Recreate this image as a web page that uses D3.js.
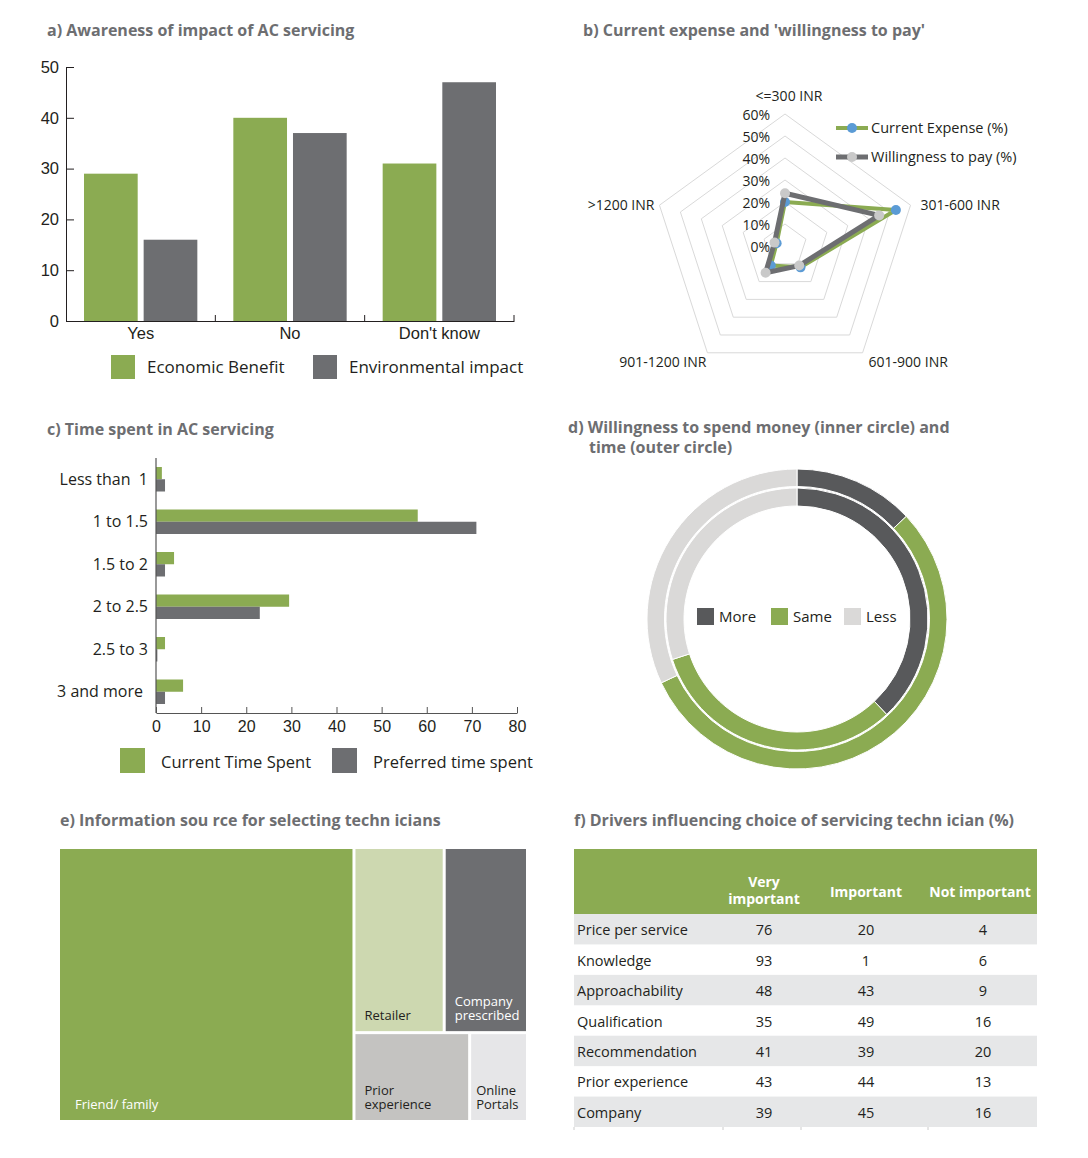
<!DOCTYPE html>
<html>
<head>
<meta charset="utf-8">
<script src="https://cdn.jsdelivr.net/npm/d3@7"></script>
<style>
  body { margin: 0; background: #fff; }
  svg { display: block; font-family: "Open Sans", sans-serif; }
  svg text { white-space: pre; }
  .title { font-weight: 700; fill: #6d6e71; font-size: 16px; }
  .tick text { fill: #231f20; }
</style>
</head>
<body>
<svg id="chart" width="1088" height="1158"></svg>
<script>
// ---- data ----
const awarenessCats = ["Yes", "No", "Don't know"];
const economicBenefit = [29, 40, 31];
const environmentalImpact = [16, 37, 47];

const expenseCats = ["<=300 INR", "301-600 INR", "601-900 INR", "901-1200 INR", ">1200 INR"];
const currentExpense = [20, 53, 12, 11, 4];
const willingnessToPay = [24, 45, 11, 15, 5];
const radarTicks = [0, 10, 20, 30, 40, 50, 60];

const timeCats = ["Less than  1", "1 to 1.5", "1.5 to 2", "2 to 2.5", "2.5 to 3", "3 and more"];
const currentTime = [1.3, 58, 4, 29.5, 2, 6];
const preferredTime = [2, 71, 2, 23, 0.3, 2];
const timeTicks = [0, 10, 20, 30, 40, 50, 60, 70, 80];

const spendCats = ["More", "Same", "Less"];
const moneyInner = [38, 32, 30];
const timeOuter = [13, 55, 32];

const sourceNames = ["Friend/ family", "Retailer", "Company prescribed", "Prior experience", "Online Portals"];
const sourceValues = [63, 13, 12, 8, 4];

const driverNames = ["Price per service", "Knowledge", "Approachability", "Qualification", "Recommendation", "Prior experience", "Company"];
const veryImportant = [76, 93, 48, 35, 41, 43, 39];
const important = [20, 1, 43, 49, 39, 44, 45];
const notImportant = [4, 6, 9, 16, 20, 13, 16];

const GREEN = "#8bab52", GREY = "#6d6e71", TXT = "#231f20";
const svg = d3.select("#chart");

// multi-line label as one text element, yLast = centre of the last line
function multiText(g, lines, x, yLast, lh) {
  const t = g.append("text").attr("x", x).attr("y", yLast - (lines.length - 1) * lh);
  lines.forEach((ln, k) => t.append("tspan").attr("x", x).attr("dy", k ? lh : "0.35em").text(ln));
  return t;
}

// ---- a) grouped bars ----
const a = svg.append("g");
a.append("text").attr("class", "title").attr("x", 47).attr("y", 36).text("a) Awareness of impact of AC servicing");

const ax = d3.scaleBand().domain(awarenessCats).range([66, 514]);
const ax1 = d3.scaleBand().domain([0, 1]).range([18, ax.bandwidth() - 18]).paddingInner(0.1);
const ay = d3.scaleLinear().domain([0, 50]).range([321, 67]);

awarenessCats.forEach((c, i) => {
  [economicBenefit[i], environmentalImpact[i]].forEach((v, j) => {
    a.append("rect")
      .attr("x", ax(c) + ax1(j)).attr("width", ax1.bandwidth())
      .attr("y", ay(v)).attr("height", ay(0) - ay(v))
      .attr("fill", j ? GREY : GREEN);
  });
});

a.append("g").attr("transform", "translate(66,0)")
  .call(d3.axisLeft(ay).ticks(5).tickSize(-8).tickPadding(7))
  .call(g => g.selectAll("text").attr("font-size", 16.5))
  .call(g => g.selectAll("line,path").attr("stroke", TXT));
a.append("g").attr("transform", "translate(0,321)")
  .call(d3.axisBottom(ax).tickSize(0).tickPadding(6))
  .call(g => g.selectAll("text").attr("font-size", 16.5))
  .call(g => g.select(".domain").attr("stroke", TXT));
awarenessCats.forEach(c => {
  a.append("line").attr("x1", ax(c) + ax.bandwidth()).attr("x2", ax(c) + ax.bandwidth())
    .attr("y1", 321).attr("y2", 315).attr("stroke", TXT);
});

[["Economic Benefit", GREEN, 111], ["Environmental impact", GREY, 313]].forEach(([t, col, x]) => {
  a.append("rect").attr("x", x).attr("y", 355).attr("width", 24).attr("height", 24).attr("fill", col);
  a.append("text").attr("x", x + 36).attr("y", 367).attr("dy", "0.35em")
    .attr("font-size", 17).attr("fill", TXT).text(t);
});

// ---- b) radar ----
const b = svg.append("g");
b.append("text").attr("class", "title").attr("x", 583).attr("y", 36).text("b) Current expense and 'willingness to pay'");

const rc = { x: 785, y: 246 }, R = 132;
const rr = d3.scaleLinear().domain([0, 60]).range([0, R]);
const ang = i => i * 2 * Math.PI / expenseCats.length;
const pt = (i, v) => [rc.x + rr(v) * Math.sin(ang(i)), rc.y - rr(v) * Math.cos(ang(i))];

radarTicks.slice(1).forEach(t => {
  b.append("polygon")
    .attr("points", expenseCats.map((c, i) => pt(i, t).join(",")).join(" "))
    .attr("fill", "none").attr("stroke", "#d9d9d9").attr("stroke-width", 1);
});
radarTicks.forEach(t => {
  b.append("text").attr("x", rc.x - 15).attr("y", rc.y - rr(t) + 1).attr("dy", "0.35em")
    .attr("text-anchor", "end").attr("font-size", 14).attr("fill", TXT).text(t + "%");
});

expenseCats.forEach((c, i) => {
  const [x, y] = pt(i, 60);
  let anchor = "middle", dx = 0, dy = 0;
  if (i === 0) { dy = -18; dx = 4; }
  else if (i === 1) { anchor = "start"; dx = 10; }
  else if (i === 2) { anchor = "start"; dx = 6; dy = 9; }
  else if (i === 3) { anchor = "end"; dx = -1; dy = 9; }
  else { anchor = "end"; dx = -5; }
  b.append("text").attr("x", x + dx).attr("y", y + dy).attr("dy", "0.35em")
    .attr("text-anchor", anchor).attr("font-size", 14).attr("fill", TXT).text(c);
});

const radarLine = d3.line().curve(d3.curveLinearClosed);
[[currentExpense, GREEN, "#5b9bd5", 4], [willingnessToPay, GREY, "#c9c9c9", 5]].forEach(([vals, lc, dc, w]) => {
  b.append("path").attr("d", radarLine(vals.map((v, i) => pt(i, v))))
    .attr("fill", "none").attr("stroke", lc).attr("stroke-width", w).attr("stroke-linejoin", "round");
  vals.forEach((v, i) => {
    const [x, y] = pt(i, v);
    b.append("circle").attr("cx", x).attr("cy", y).attr("r", 5).attr("fill", dc);
  });
});

[["Current Expense (%)", GREEN, "#5b9bd5", 4, 128], ["Willingness to pay (%)", GREY, "#c9c9c9", 5, 157]].forEach(([t, lc, dc, w, y]) => {
  b.append("line").attr("x1", 836).attr("x2", 868).attr("y1", y).attr("y2", y)
    .attr("stroke", lc).attr("stroke-width", w);
  b.append("circle").attr("cx", 852).attr("cy", y).attr("r", 5).attr("fill", dc);
  b.append("text").attr("x", 871).attr("y", y).attr("dy", "0.35em")
    .attr("font-size", 14.5).attr("fill", TXT).text(t);
});

// ---- c) horizontal bars ----
const c = svg.append("g");
c.append("text").attr("class", "title").attr("x", 47).attr("y", 435).text("c) Time spent in AC servicing");

const cx = d3.scaleLinear().domain([0, 80]).range([156, 517]);
const cy = d3.scaleBand().domain(timeCats).range([458, 713]);
const cy1 = d3.scaleBand().domain([0, 1]).range([9, cy.bandwidth() - 9]);

timeCats.forEach((cat, i) => {
  [currentTime[i], preferredTime[i]].forEach((v, j) => {
    c.append("rect")
      .attr("x", cx(0)).attr("width", cx(v) - cx(0))
      .attr("y", cy(cat) + cy1(j)).attr("height", cy1.bandwidth())
      .attr("fill", j ? GREY : GREEN);
  });
  c.append("text").attr("x", i === timeCats.length - 1 ? 143 : 148).attr("y", cy(cat) + cy.bandwidth() / 2).attr("dy", "0.35em")
    .attr("text-anchor", "end").attr("font-size", 16).attr("fill", TXT).text(cat);
});

c.append("line").attr("x1", 156).attr("x2", 156).attr("y1", 458).attr("y2", 713).attr("stroke", "#555").attr("stroke-width", 1.2);
c.append("g").attr("transform", "translate(0,713)")
  .call(d3.axisBottom(cx).tickValues(timeTicks).tickSize(-6).tickPadding(8).tickSizeOuter(0))
  .call(g => g.selectAll("text").attr("font-size", 16))
  .call(g => g.selectAll("line,path").attr("stroke", "#555"));

[["Current Time Spent", GREEN, 120], ["Preferred time spent", GREY, 332]].forEach(([t, col, x]) => {
  c.append("rect").attr("x", x).attr("y", 748).attr("width", 25).attr("height", 25).attr("fill", col);
  c.append("text").attr("x", x + 41).attr("y", 762).attr("dy", "0.35em")
    .attr("font-size", 16.5).attr("fill", TXT).text(t);
});

// ---- d) nested donut ----
const d = svg.append("g");
d.append("text").attr("class", "title").attr("x", 568).attr("y", 433).text("d) Willingness to spend money (inner circle) and");
d.append("text").attr("class", "title").attr("x", 589).attr("y", 453).text("time (outer circle)");

const spendColors = d3.scaleOrdinal().domain(spendCats).range(["#58595b", GREEN, "#dad9d8"]);
const pie = d3.pie().sort(null);
const dg = d.append("g").attr("transform", "translate(797,619)");
[[moneyInner, 113, 131], [timeOuter, 132.5, 150]].forEach(([vals, r0, r1]) => {
  const arc = d3.arc().innerRadius(r0).outerRadius(r1);
  dg.selectAll(null).data(pie(vals)).enter().append("path")
    .attr("d", arc).attr("fill", (p, i) => spendColors(spendCats[i]))
    .attr("stroke", "#fff").attr("stroke-width", 1);
});
spendCats.forEach((s, i) => {
  const x = [697, 771, 844][i];
  d.append("rect").attr("x", x).attr("y", 608).attr("width", 17).attr("height", 17).attr("fill", spendColors(s));
  d.append("text").attr("x", x + 22).attr("y", 617).attr("dy", "0.35em")
    .attr("font-size", 15).attr("fill", TXT).text(s);
});

// ---- e) treemap ----
const e = svg.append("g");
e.append("text").attr("class", "title").attr("x", 60).attr("y", 826).text("e) Information sou rce for selecting techn icians");

const leaf = i => ({ name: sourceNames[i], value: sourceValues[i], idx: i });
const treeRoot = d3.hierarchy({
  children: [leaf(0), { children: [{ children: [leaf(1), leaf(2)] }, { children: [leaf(3), leaf(4)] }] }]
}).sum(n => n.value || 0);
d3.treemap().tile(d3.treemapSliceDice).size([466, 271]).paddingInner(3)(treeRoot);

const srcFill = ["#8bab52", "#cdd8b0", "#6d6e71", "#c4c3c1", "#e6e6e8"];
const srcText = ["#fff", TXT, "#fff", TXT, TXT];
const eg = e.append("g").attr("transform", "translate(60,849)");
treeRoot.leaves().forEach(n => {
  const i = n.data.idx;
  eg.append("rect").attr("x", n.x0).attr("y", n.y0)
    .attr("width", n.x1 - n.x0).attr("height", n.y1 - n.y0).attr("fill", srcFill[i]);
  const words = n.data.name.split(" ");
  const lines = (i === 0 || words.length === 1) ? [n.data.name] : words;
  const w = n.x1 - n.x0;
  const pad = w > 200 ? 15 : (w < 70 ? 5 : 9);
  multiText(eg, lines, n.x0 + pad, n.y1 - 16, 14)
    .attr("font-size", 13).attr("fill", srcText[i]);
});

// ---- f) table ----
const f = svg.append("g");
f.append("text").attr("class", "title").attr("x", 574).attr("y", 826).text("f) Drivers influencing choice of servicing techn ician (%)");

const colX = [574, 723, 801, 928, 1037];
const rowY = d3.scaleBand().domain(driverNames).range([914, 1127]);
f.append("rect").attr("x", 574).attr("y", 849).attr("width", 1037 - 574).attr("height", 65).attr("fill", GREEN);
multiText(f, ["Very", "important"], 764, 899, 17)
  .attr("text-anchor", "middle").attr("font-size", 14).attr("font-weight", 700).attr("fill", "#fff");
multiText(f, ["Important"], 866, 892, 17)
  .attr("text-anchor", "middle").attr("font-size", 14).attr("font-weight", 700).attr("fill", "#fff");
multiText(f, ["Not important"], 980, 892, 17)
  .attr("text-anchor", "middle").attr("font-size", 14).attr("font-weight", 700).attr("fill", "#fff");

driverNames.forEach((nm, i) => {
  const y = rowY(nm);
  if (i % 2 === 0) f.append("rect").attr("x", 574).attr("y", y).attr("width", 1037 - 574).attr("height", rowY.bandwidth()).attr("fill", "#e6e7e8");
  const mid = y + rowY.bandwidth() / 2 + 1;
  f.append("text").attr("x", 577).attr("y", mid).attr("dy", "0.35em").attr("font-size", 14.5).attr("fill", TXT).text(nm);
  [veryImportant[i], important[i], notImportant[i]].forEach((v, j) => {
    f.append("text").attr("x", [764, 866, 983][j]).attr("y", mid).attr("dy", "0.35em")
      .attr("text-anchor", "middle").attr("font-size", 14.5).attr("fill", TXT).text(v);
  });
});
colX.slice(0, 4).forEach(x => {
  f.append("line").attr("x1", x).attr("x2", x).attr("y1", 1127).attr("y2", 1130).attr("stroke", "#ccc");
});
</script>
</body>
</html>
